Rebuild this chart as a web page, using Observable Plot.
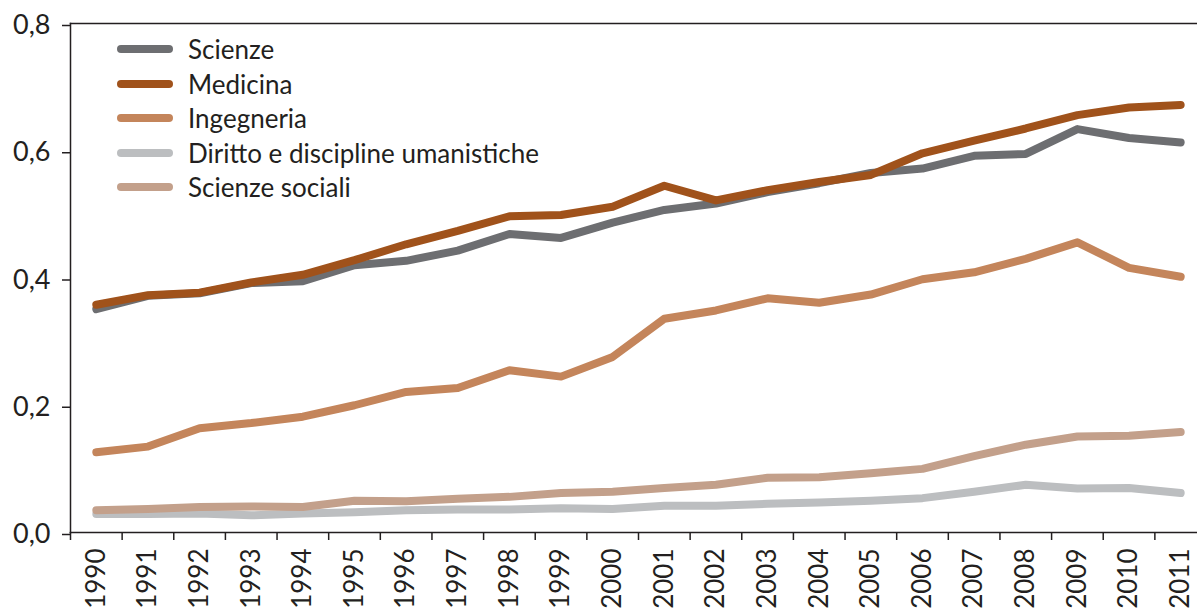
<!DOCTYPE html>
<html>
<head>
<meta charset="utf-8">
<script src="https://cdn.jsdelivr.net/npm/d3@7"></script>
<script src="https://cdn.jsdelivr.net/npm/@observablehq/plot@0.6"></script>
<style>
  html, body { margin: 0; padding: 0; background: #fff; }
  #wrap { position: relative; width: 1197px; height: 609px; font-family: Lato, "Open Sans", sans-serif; color: #231f20; }
  #wrap svg { display: block; }
  #legend { position: absolute; left: 117px; top: 32px; }
  .item { display: flex; align-items: center; height: 34.5px; font-size: 26px; }
  .sw { width: 56px; height: 8px; border-radius: 4px; margin-right: 15px; }
</style>
</head>
<body>
<div id="wrap"><div id="legend"></div></div>
<script>
const years = [1990,1991,1992,1993,1994,1995,1996,1997,1998,1999,2000,2001,2002,2003,2004,2005,2006,2007,2008,2009,2010,2011];
const seriesNames = ["Scienze", "Medicina", "Ingegneria", "Diritto e discipline umanistiche", "Scienze sociali"];
const seriesColors = ["#6d6e71", "#a0521b", "#c4855b", "#bcbec0", "#c3a08b"];
const scienze    = [0.351,0.372,0.376,0.392,0.395,0.420,0.427,0.443,0.469,0.463,0.487,0.507,0.517,0.535,0.549,0.565,0.572,0.592,0.595,0.634,0.620,0.613];
const medicina   = [0.358,0.373,0.377,0.393,0.405,0.428,0.453,0.474,0.497,0.499,0.512,0.545,0.522,0.538,0.551,0.562,0.596,0.616,0.635,0.656,0.668,0.672];
const ingegneria = [0.126,0.135,0.164,0.172,0.182,0.200,0.221,0.227,0.255,0.245,0.276,0.336,0.349,0.368,0.361,0.374,0.398,0.409,0.430,0.456,0.416,0.402];
const diritto    = [0.029,0.029,0.030,0.027,0.030,0.032,0.035,0.036,0.036,0.038,0.037,0.042,0.042,0.045,0.047,0.050,0.054,0.064,0.075,0.069,0.070,0.062];
const sociali    = [0.035,0.037,0.040,0.041,0.040,0.050,0.049,0.053,0.056,0.062,0.064,0.070,0.075,0.086,0.087,0.093,0.100,0.120,0.138,0.151,0.152,0.158];
const yTicks = [0, 0.2, 0.4, 0.6, 0.8];

const allValues = [scienze, medicina, ingegneria, diritto, sociali];
const data = [];
seriesNames.forEach((name, i) => years.forEach((yr, j) => data.push({series: name, year: yr, value: allValues[i][j]})));
const boundaries = years.map(y => y - 0.5);

const chart = Plot.plot({
  width: 1197,
  height: 609,
  marginLeft: 70,
  marginRight: 0,
  marginTop: 23,
  marginBottom: 77,
  style: {fontFamily: "Lato, 'Open Sans', sans-serif", color: "#231f20", background: "#fff"},
  x: {type: "linear", domain: [years[0] - 0.5, years[years.length - 1] + 0.5], range: [70, 1206]},
  y: {domain: [0, 0.8]},
  color: {domain: seriesNames, range: seriesColors},
  marks: [
    Plot.frame({anchor: "top", stroke: "#231f20", strokeWidth: 1.5}),
    Plot.frame({anchor: "left", stroke: "#231f20", strokeWidth: 1.5}),
    Plot.frame({anchor: "bottom", stroke: "#231f20", strokeWidth: 1.5}),
    Plot.axisY({ticks: yTicks, tickSize: 8, tickPadding: 12, fontSize: 27, label: null,
      tickFormat: d => d.toFixed(1).replace(".", ","), stroke: "#231f20", strokeWidth: 1.5, dy: 2}),
    Plot.axisX({ticks: boundaries, tickSize: 8, tickFormat: () => "", label: null, stroke: "#231f20", strokeWidth: 1.5}),
    Plot.axisX({ticks: years, tickSize: 0, tickPadding: 16, tickRotate: -90, fontSize: 26, label: null,
      tickFormat: d => String(d)}),
    Plot.line(data, {x: "year", y: "value", z: "series", stroke: "series", strokeWidth: 8,
      strokeLinecap: "round", strokeLinejoin: "round"})
  ]
});
const wrap = document.getElementById("wrap");
wrap.insertBefore(chart, wrap.firstChild);

const legend = document.getElementById("legend");
seriesNames.forEach((name, i) => {
  const it = document.createElement("div");
  it.className = "item";
  const sw = document.createElement("div");
  sw.className = "sw";
  sw.style.background = seriesColors[i];
  const tx = document.createElement("span");
  tx.textContent = name;
  it.appendChild(sw); it.appendChild(tx);
  legend.appendChild(it);
});
</script>
</body>
</html>
